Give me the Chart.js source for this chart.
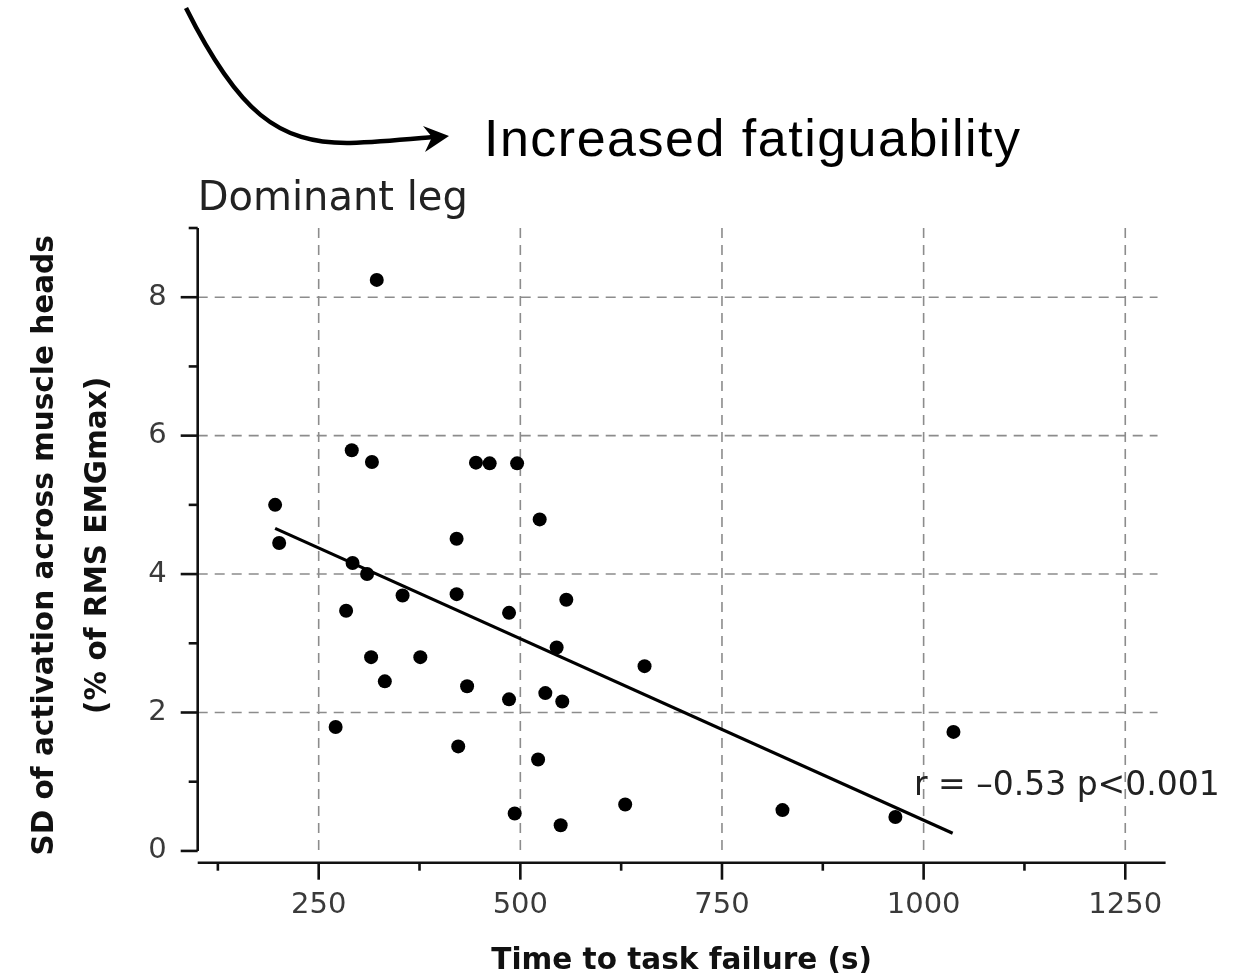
<!DOCTYPE html>
<html>
<head>
<meta charset="utf-8">
<script src="https://cdn.jsdelivr.net/npm/chart.js@4.4.1/dist/chart.umd.min.js"></script>
<style>
  html, body { margin: 0; padding: 0; background: #fff; }
  #wrap { position: relative; width: 1246px; height: 978px; }
  #arrow { position: absolute; left: 0; top: 0; }
  .note { position: absolute; white-space: nowrap; line-height: 1; }
  #fatigue { left: 484px; top: 108px; font: 52px "Liberation Sans Narrow", sans-serif; letter-spacing: 1.5px; color: #000; }
  #stats { left: 914px; top: 764px; font: 33px "DejaVu Sans", sans-serif; color: #222; }
</style>
</head>
<body>
<div id="wrap">
  <canvas id="scatterChart"></canvas>
  <svg id="arrow" width="1246" height="180">
    <path d="M186 8 C 238 112, 278 144, 350 143 C 380 142, 410 139, 433 137" stroke="#000" stroke-width="4.5" fill="none"/>
    <path d="M423 126 L 449 136 L 425 152 L 432 137 Z" fill="#000"/>
  </svg>
  <div class="note" id="fatigue">Increased fatiguability</div>
  <div class="note" id="stats">r = –0.53 p&lt;0.001</div>
</div>
<script>
// time to task failure (s) and SD of activation (% of RMS EMGmax), one entry per participant
const timeToFailure = [322, 196, 201, 291, 316, 445, 462, 496, 524, 421, 292, 310, 354, 421, 284,
                       486, 557, 545, 315, 376, 332, 434, 486, 531, 552, 654, 271, 423, 522, 493,
                       550, 630, 825, 965, 1037];
const sdActivation  = [8.25, 5.00, 4.45, 5.79, 5.62, 5.61, 5.60, 5.60, 4.79, 4.51, 4.16, 4.00, 3.69, 3.71, 3.47,
                       3.44, 3.63, 2.94, 2.80, 2.80, 2.45, 2.38, 2.19, 2.28, 2.16, 2.67, 1.79, 1.51, 1.32, 0.54,
                       0.37, 0.67, 0.59, 0.49, 1.72];

// regression line end points
const fitX = [196, 1036];
const fitY = [4.66, 0.255];

const yTitle = ['SD of activation across muscle heads', '(% of RMS EMGmax)'];
const xTitle = 'Time to task failure (s)';

Chart.defaults.font.family = 'DejaVu Sans';

// seaborn-like offset axes, dashed grid and long/short tick marks
const offsetAxes = {
    id: 'offsetAxes',
    beforeDatasetsDraw(chart) {
        const { ctx, chartArea, scales: { x, y } } = chart;
        const axisX = chartArea.left;
        const axisY = chartArea.bottom;
        const yZero = y.getPixelForValue(0);
        const yTop = y.getPixelForValue(y.max);
        const line = (x1, y1, x2, y2) => {
            ctx.beginPath();
            ctx.moveTo(x1, y1);
            ctx.lineTo(x2, y2);
            ctx.stroke();
        };
        ctx.save();
        ctx.strokeStyle = '#8c8c8c';
        ctx.lineWidth = 1.6;
        ctx.setLineDash([10, 7]);
        x.ticks.forEach(t => {
            if (t.value % 250 === 0) {
                const px = x.getPixelForValue(t.value);
                line(px, yTop, px, yZero);
            }
        });
        const gridEnd = x.getPixelForValue(1290);
        y.ticks.forEach(t => {
            if (t.value > 0 && t.value % 2 === 0) {
                const py = y.getPixelForValue(t.value);
                line(axisX, py, gridEnd, py);
            }
        });

        ctx.setLineDash([]);
        ctx.strokeStyle = '#111';
        ctx.lineWidth = 2.6;
        line(axisX, yTop, axisX, yZero);
        line(axisX, axisY, chartArea.right, axisY);
        y.ticks.forEach(t => {
            const py = y.getPixelForValue(t.value);
            line(axisX, py, axisX - (t.value % 2 === 0 ? 17 : 9), py);
        });
        x.ticks.forEach(t => {
            const px = x.getPixelForValue(t.value);
            line(px, axisY, px, axisY + (t.value % 250 === 0 ? 17 : 8));
        });
        ctx.restore();
    }
};

const tickFont = { family: 'DejaVu Sans', size: 29 };
const titleFont = { family: 'DejaVu Sans', weight: 'bold', size: 29.5 };

new Chart(document.getElementById('scatterChart'), {
    type: 'scatter',
    data: {
        datasets: [{
            data: timeToFailure.map((t, i) => ({ x: t, y: sdActivation[i] })),
            backgroundColor: '#000',
            borderWidth: 0,
            pointRadius: 7
        }, {
            type: 'line',
            data: fitX.map((t, i) => ({ x: t, y: fitY[i] })),
            borderColor: '#000',
            borderWidth: 3.2,
            pointRadius: 0,
            fill: false
        }]
    },
    options: {
        responsive: true,
        maintainAspectRatio: false,
        animation: false,
        layout: {
            padding: { top: 175.2, right: 80.4, bottom: 0, left: 0 }
        },
        plugins: {
            legend: { display: false },
            tooltip: { enabled: false },
            title: {
                display: true,
                text: 'Dominant leg',
                align: 'start',
                fullSize: false,
                color: '#222',
                font: { family: 'DejaVu Sans', weight: 'normal', size: 40, lineHeight: 1.2 },
                padding: { top: 0, bottom: 4.8 }
            }
        },
        scales: {
            x: {
                type: 'linear',
                min: 100,
                max: 1300,
                grid: { display: false, drawTicks: false },
                border: { display: false },
                ticks: {
                    stepSize: 125,
                    includeBounds: false,
                    autoSkip: false,
                    maxRotation: 0,
                    padding: 25,
                    color: '#3a3a3a',
                    font: tickFont,
                    callback: v => (v % 250 === 0 ? v : '')
                },
                title: {
                    display: true,
                    text: xTitle,
                    color: '#111',
                    font: { ...titleFont, lineHeight: 1.1 },
                    padding: { top: 0, bottom: 0 }
                },
                afterFit: s => { s.height = 115.3; }
            },
            y: {
                type: 'linear',
                min: -0.17,
                max: 9,
                grid: { display: false, drawTicks: false },
                border: { display: false },
                ticks: {
                    stepSize: 1,
                    includeBounds: false,
                    autoSkip: false,
                    padding: 31,
                    color: '#3a3a3a',
                    font: tickFont,
                    callback: v => (v >= 0 && v % 2 === 0 ? v : '')
                },
                title: {
                    display: true,
                    text: yTitle,
                    color: '#111',
                    font: { ...titleFont, lineHeight: 1.8 },
                    padding: { top: 19, bottom: 0 }
                },
                afterFit: s => { s.width = 197.7; }
            }
        }
    },
    plugins: [offsetAxes]
});
</script>
</body>
</html>
